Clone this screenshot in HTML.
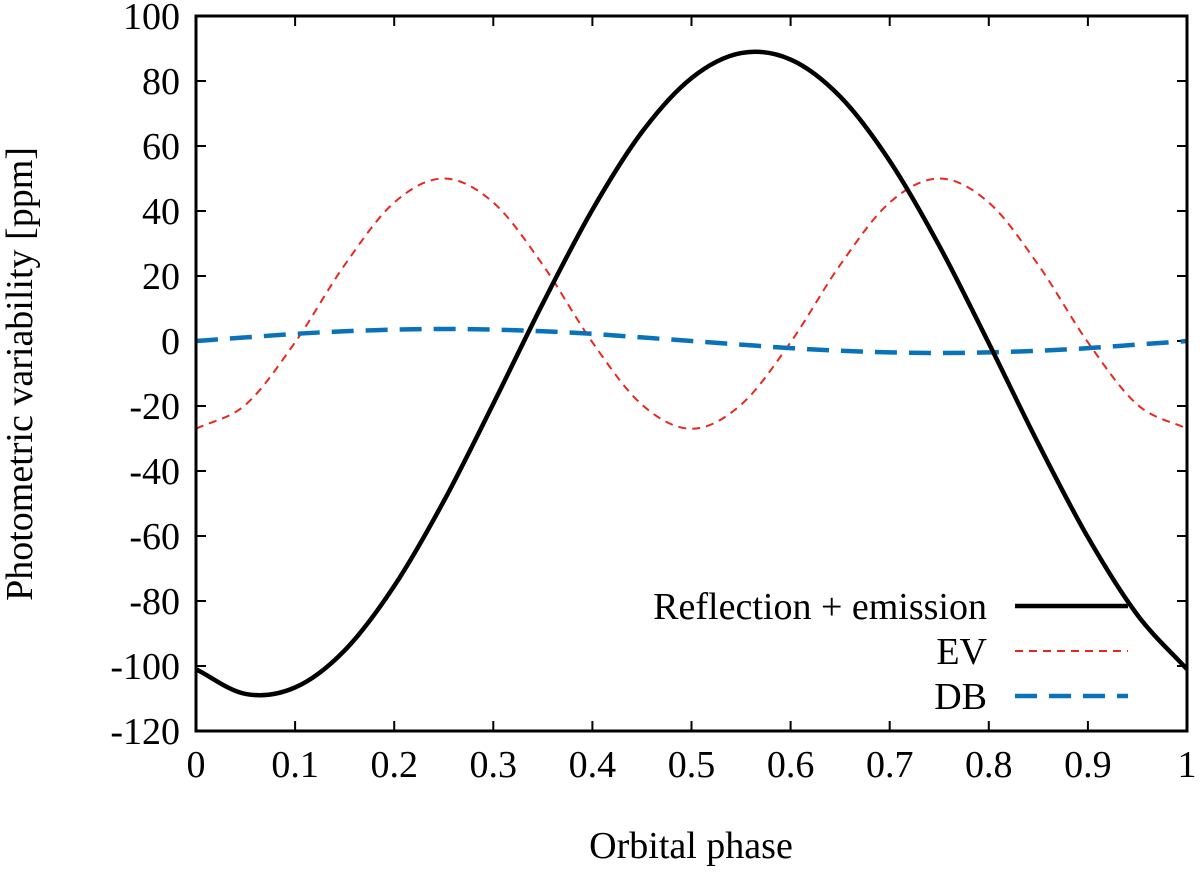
<!DOCTYPE html>
<html><head><meta charset="utf-8"><style>
body{margin:0;background:#fff}
svg text{font-family:"Liberation Serif",serif;font-size:38px;fill:#000}
</style></head><body>
<svg width="1200" height="870" id="chart"></svg>
<script>
const phases=[0,0.05,0.1,0.15,0.2,0.25,0.3,0.35,0.4,0.45,0.5,0.55,0.6,0.65,0.7,0.75,0.8,0.85,0.9,0.95,1];
const reflection=[-101,-108.6,-106.6,-95.2,-75.4,-49.3,-19.3,11.6,40.4,64.3,80.9,88.6,86.6,75.2,55.4,29.3,-0.7,-31.6,-60.4,-84.3,-101];
const ev=[-27,-19.6,-0.4,23.4,42.6,50,42.6,23.4,-0.4,-19.6,-27,-19.6,-0.4,23.4,42.6,50,42.6,23.4,-0.4,-19.6,-27];
const db=[0,1.1,2.2,3.0,3.5,3.7,3.5,3.0,2.2,1.1,0,-1.1,-2.2,-3.0,-3.5,-3.7,-3.5,-3.0,-2.2,-1.1,0];
const xTicks=[0,0.1,0.2,0.3,0.4,0.5,0.6,0.7,0.8,0.9,1];
const xTickLabels=["0","0.1","0.2","0.3","0.4","0.5","0.6","0.7","0.8","0.9","1"];
const yTicks=[-120,-100,-80,-60,-40,-20,0,20,40,60,80,100];

const L=196,R=1187,T=16,B=731;
const sx=v=>L+(v-0)/(1-0)*(R-L);
const sy=v=>B-(v+120)/220*(B-T);
const svg=document.getElementById('chart');
const NS='http://www.w3.org/2000/svg';
function mk(tag,attrs,parent){const e=document.createElementNS(NS,tag);for(const k in attrs)e.setAttribute(k,attrs[k]);(parent||svg).appendChild(e);return e;}

xTicks.forEach((t,i)=>{
  const x=sx(t);
  const l1=mk('line',{x1:x,x2:x,y1:B,y2:B-10,stroke:'#000','stroke-width':2});
  
  
  mk('line',{x1:x,x2:x,y1:T,y2:T+10,stroke:'#000','stroke-width':2});
  const tx=mk('text',{x:x,y:B+46,'text-anchor':'middle'});
  tx.textContent=xTickLabels[i];
  
  
});
yTicks.forEach(t=>{
  const y=sy(t);
  const l1=mk('line',{x1:L,x2:L+10,y1:y,y2:y,stroke:'#000','stroke-width':2});
  
  
  mk('line',{x1:R,x2:R-10,y1:y,y2:y,stroke:'#000','stroke-width':2});
  const tx=mk('text',{x:L-16,y:y+13,'text-anchor':'end'});
  tx.textContent=String(t);
  
  
});

function pathFor(vals){
  const p=phases.map((ph,i)=>[sx(ph),sy(vals[i])]);
  const n=p.length;
  const ext=(a,b)=>[2*a[0]-b[0],2*a[1]-b[1]];
  let d='M'+p[0][0]+','+p[0][1];
  for(let i=0;i<n-1;i++){
    const p0=i>0?p[i-1]:ext(p[0],p[1]),p1=p[i],p2=p[i+1],p3=i+2<n?p[i+2]:ext(p[n-1],p[n-2]);
    const c1=[p1[0]+(p2[0]-p0[0])/6,p1[1]+(p2[1]-p0[1])/6];
    const c2=[p2[0]-(p3[0]-p1[0])/6,p2[1]-(p3[1]-p1[1])/6];
    d+=' C'+c1+' '+c2+' '+p2;
  }
  return d;
}
const evp=mk('path',{d:pathFor(ev),fill:'none',stroke:'#e8281e','stroke-width':2,'stroke-dasharray':'8,6'});


const dbp=mk('path',{d:pathFor(db),fill:'none',stroke:'#0a72b8','stroke-width':4.5,'stroke-dasharray':'22,12'});


const rp=mk('path',{d:pathFor(reflection),fill:'none',stroke:'#000','stroke-width':4.5});



const frame=mk('rect',{x:L,y:T,width:R-L,height:B-T,fill:'none',stroke:'#000','stroke-width':3});



const legend=[["Reflection + emission",'#000',4.5,'none',619],["EV",'#e8281e',2,'8,6',664],["DB",'#0a72b8',4.5,'22,12',709]];
legend.forEach(([label,c,w,da,y])=>{
  const g=mk('g',{});
  
  
  const t=mk('text',{x:987,y:y,'text-anchor':'end'},g);t.textContent=label;
  mk('line',{x1:1015,x2:1128,y1:y-13,y2:y-13,stroke:c,'stroke-width':w,'stroke-dasharray':da},g);
});

const xt=mk('text',{x:691,y:858,'text-anchor':'middle'});
xt.textContent='Orbital phase';


const yt=mk('text',{x:0,y:0,'text-anchor':'middle',transform:'translate(32,374) rotate(-90)'});
yt.textContent='Photometric variability [ppm]';


</script>
</body></html>
